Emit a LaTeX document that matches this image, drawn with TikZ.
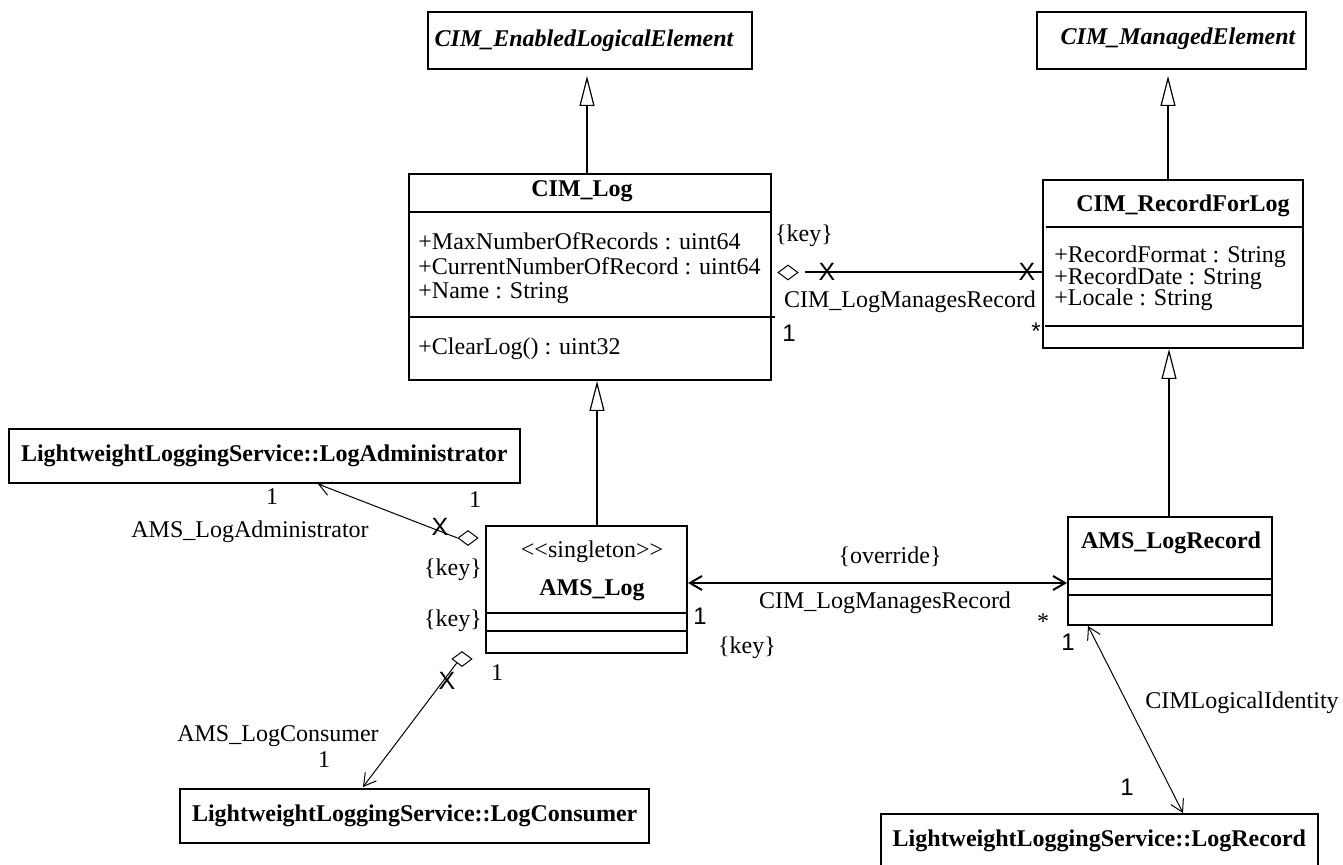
\documentclass[tikz,border=0pt]{standalone}
\usepackage{fontspec}
\setmainfont{Liberation Serif}
\newfontfamily\arialfont{Liberation Sans}
\usetikzlibrary{arrows.meta,shapes.geometric}

\begin{document}
\begin{tikzpicture}[
		x=0.5pt, y=-0.5pt,
		>={Straight Barb[length=6pt, width=7pt]},
		every node/.style={inner sep=0pt, font=\fontsize{12}{12}\selectfont},
		cls/.style={rectangle, draw, line width=1pt},
		pkgcls/.style={rectangle, draw, line width=1pt, inner xsep=6pt, minimum height=27pt, font=\fontsize{12}{12}\selectfont\bfseries},
		ttl/.style={anchor=base, font=\fontsize{12}{12}\selectfont\bfseries},
		abst/.style={anchor=base, font=\fontsize{12}{12}\selectfont\bfseries\itshape},
		attr/.style={anchor=base west},
		mult/.style={font=\fontsize{12}{12}\selectfont\arialfont},
		agg/.style={diamond, draw, line width=0.5pt, minimum width=10pt, minimum height=7.5pt},
		xmark/.style={font=\fontsize{12.5}{12.5}\selectfont\arialfont},
		inherit/.style={line width=1pt, -{Triangle[open, length=15pt, width=7.5pt, line width=0.6pt]}},
		assoc/.style={line width=0.5pt}
	]
  \useasboundingbox (0,0) rectangle (1343,865);

  % superclasses
  \node (ele) [cls, minimum width=162pt, minimum height=28.5pt] at (590,40.5) {};
  \node [abst] at (584,47) {CIM\_EnabledLogicalElement};
  \node (mgd) [cls, minimum width=134.5pt, minimum height=28.5pt] at (1171.5,40.5) {};
  \node [abst] at (1178,45) {CIM\_ManagedElement};

  % CIM_Log
  \node (cimlog) [cls, minimum width=181pt, minimum height=103pt] at (590,277) {};
  \draw [line width=1pt] (cimlog.west |- 0,212) -- (cimlog.east |- 0,212);
  \draw [line width=1pt] (cimlog.west |- 0,317) -- ([xshift=1.5pt]cimlog.east |- 0,317);
  \node [ttl] at (582,197) {CIM\_Log};
  \node [attr] at (418,250) {+MaxNumberOfRecords : uint64};
  \node [attr] at (418,275) {+CurrentNumberOfRecord : uint64};
  \node [attr] at (418,299) {+Name : String};
  \node [attr] at (418,355) {+ClearLog() : uint32};

  % CIM_RecordForLog
  \node (rec4log) [cls, minimum width=130pt, minimum height=84pt] at (1173,264) {};
  \draw [line width=1pt] ([xshift=2pt]rec4log.west |- 0,227) -- (rec4log.east |- 0,227);
  \draw [line width=1pt] ([xshift=1.5pt]rec4log.west |- 0,326) -- (rec4log.east |- 0,326);
  \node [ttl] at (1183,212) {CIM\_RecordForLog};
  \node [attr] at (1054,263) {+RecordFormat : String};
  \node [attr] at (1054,285) {+RecordDate : String};
  \node [attr] at (1054,306) {+Locale : String};

  % AMS_Log
  \node (amslog) [cls, minimum width=100.5pt, minimum height=63.5pt] at (586.5,589.5) {};
  \draw [line width=1pt] (amslog.west |- 0,613) -- (amslog.east |- 0,613);
  \draw [line width=1pt] (amslog.west |- 0,631) -- (amslog.east |- 0,631);
  \node [anchor=base] at (592,557) {<{}<singleton>{}>};
  \node [ttl] at (592,595) {AMS\_Log};

  % AMS_LogRecord
  \node (amsrec) [cls, minimum width=102pt, minimum height=54pt] at (1170,571) {};
  \draw [line width=1pt] (amsrec.west |- 0,579) -- (amsrec.east |- 0,579);
  \draw [line width=1pt] (amsrec.west |- 0,595) -- (amsrec.east |- 0,595);
  \node [ttl] at (1171,548) {AMS\_LogRecord};

  % LightweightLoggingService classes
  \node (admin) [pkgcls, anchor=north west] at (8,428) {LightweightLoggingService::LogAdministrator};
  \node (consumer) [pkgcls, anchor=north west] at (179,788) {LightweightLoggingService::LogConsumer};
  \node (logrec) [pkgcls, anchor=north east] at (1319,813) {LightweightLoggingService::LogRecord};

  % generalizations
  \draw [inherit] (cimlog.north -| 587,0) -- ([yshift=-3pt]ele.south -| 587,0);
  \draw [inherit] (rec4log.north -| 1168,0) -- ([yshift=-3pt]mgd.south -| 1168,0);
  \draw [inherit] (amslog.north -| 597,0) -- (cimlog.south -| 597,0);
  \draw [inherit] (amsrec.north -| 1169,0) -- (rec4log.south -| 1169,0);

  % CIM_LogManagesRecord (CIM_Log -- CIM_RecordForLog)
  \node (d1) [agg] at (788,272.5) {};
  \draw [line width=1pt, shorten <=3pt] (d1.east) -- (rec4log.west |- d1.east);
  \node [xmark] at (827,272) {X};
  \node [xmark] at (1027,272) {X};
  \node [anchor=base] at (804,242) {\{key\}};
  \node [anchor=base] at (910,308) {CIM\_LogManagesRecord};
  \node [mult, anchor=base] at (789,342) {1};
  \node [mult] at (1036,331) {*};

  % AMS_LogAdministrator
  \node (d2) [agg] at (468,538) {};
  \coordinate (admtip) at (318,484);
  \draw [assoc, ->] (d2.west) -- (admtip);
  \node [xmark] at (440,527) {X};
  \node at (272,497) {1};
  \node at (475,500) {1};
  \node at (250,532) {AMS\_LogAdministrator};
  \node at (453,570) {\{key\}};

  % AMS_LogConsumer
  \node (d3) [agg] at (462,659) {};
  \coordinate (contip) at (363,787);
  \draw [assoc, ->] (d3.south west) -- (contip);
  \node [xmark] at (447,681) {X};
  \node at (497,673) {1};
  \node at (278,736) {AMS\_LogConsumer};
  \node at (324,760) {1};
  \node at (453,621) {\{key\}};

  % CIM_LogManagesRecord (AMS_Log -- AMS_LogRecord)
  \draw [line width=1pt, <->] ([yshift=3.25pt]amslog.east) -- ([yshift=-6pt]amsrec.west);
  \node at (890,557) {\{override\}};
  \node at (885,603) {CIM\_LogManagesRecord};
  \node [mult] at (700,616) {1};
  \node at (1043,622) {*};
  \node at (747,648) {\{key\}};

  % CIMLogicalIdentity
  \draw [assoc, <->] (amsrec.south -| 1088,0) -- (logrec.north -| 1183,0);
  \node [mult] at (1068,642) {1};
  \node [mult] at (1127,787) {1};
  \node at (1242,703) {CIMLogicalIdentity};
\end{tikzpicture}
\end{document}
